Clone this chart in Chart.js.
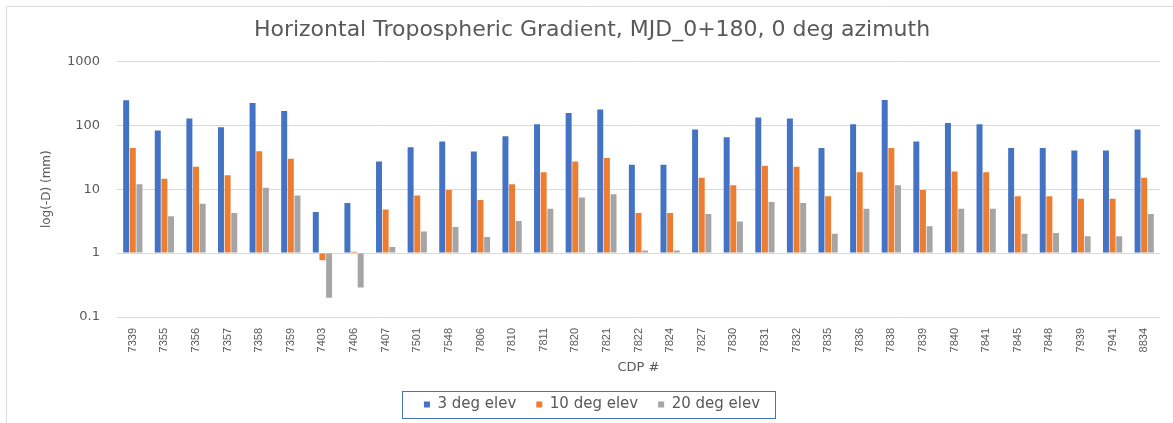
<!DOCTYPE html>
<html>
<head>
<meta charset="utf-8">
<script src="https://cdn.jsdelivr.net/npm/chart.js@4"></script>
<style>
html,body{margin:0;padding:0;background:#fff;}
#wrap{width:1173px;height:423px;}
</style>
</head>
<body>
<div id="wrap"><canvas id="c" width="1173" height="423"></canvas></div>
<script>
const categories = ["7339","7355","7356","7357","7358","7359","7403","7406","7407","7501","7548","7806","7810","7811","7820","7821","7822","7824","7827","7830","7831","7832","7835","7836","7838","7839","7840","7841","7845","7848","7939","7941","8834"];
const elev3  = [246, 83, 128, 93, 224, 168, 4.4, 6.1, 27.2, 45.5, 55.9, 39, 67.6, 104, 156, 176, 24.1, 24.1, 86, 65, 132, 128, 44, 104, 249, 55.9, 109, 104, 44, 44, 40.4, 40.4, 86];
const elev10 = [44, 14.6, 22.4, 16.5, 39.4, 29.9, 0.77, 1.05, 4.8, 8.0, 9.7, 6.8, 11.9, 18.4, 27.2, 30.7, 4.25, 4.25, 15.1, 11.5, 23.3, 22.4, 7.75, 18.4, 44, 9.7, 19.0, 18.4, 7.75, 7.75, 7.1, 7.1, 15.1];
const elev20 = [11.9, 3.78, 5.9, 4.25, 10.5, 8.0, 0.20, 0.29, 1.25, 2.17, 2.55, 1.78, 3.19, 4.96, 7.4, 8.3, 1.1, 1.1, 4.1, 3.11, 6.3, 6.1, 2.0, 4.96, 11.5, 2.64, 4.96, 4.96, 2.0, 2.07, 1.84, 1.84, 4.1];
const seriesNames = ["3 deg elev", "10 deg elev", "20 deg elev"];
const yTicks = [0.1, 1, 10, 100, 1000];

const txt = '#595959';
const FONT = 'DejaVu Sans';

const decor = {
  id: 'decor',
  beforeDraw(chart) {
    const ctx = chart.ctx;
    ctx.save();
    ctx.strokeStyle = '#DDDDDD';
    ctx.lineWidth = 1;
    ctx.beginPath();
    ctx.moveTo(6.5, chart.height);
    ctx.lineTo(6.5, 6.5);
    ctx.lineTo(chart.width, 6.5);
    ctx.stroke();
    ctx.restore();
  },
  afterDraw(chart) {
    const l = chart.legend;
    if (!l || !l.legendHitBoxes || !l.legendHitBoxes.length) return;
    const hb = l.legendHitBoxes;
    const x0 = hb[0].left - 22, x1 = hb[hb.length-1].left + hb[hb.length-1].width + 15;
    const y0 = hb[0].top - 6, y1 = hb[0].top + hb[0].height + 6;
    const ctx = chart.ctx;
    ctx.save();
    ctx.strokeStyle = '#4472C4';
    ctx.lineWidth = 1;
    ctx.strokeRect(Math.round(x0)+0.5, Math.round(y0)+0.5, Math.round(x1-x0), Math.round(y1-y0));
    ctx.restore();
  }
};

new Chart(document.getElementById('c'), {
  type: 'bar',
  data: {
    labels: categories,
    datasets: [
      {label: seriesNames[0], data: elev3,  backgroundColor: '#4472C4', base: 1},
      {label: seriesNames[1], data: elev10, backgroundColor: '#ED7D31', base: 1},
      {label: seriesNames[2], data: elev20, backgroundColor: '#A5A5A5', base: 1}
    ]
  },
  options: {
    responsive: false,
    animation: false,
    devicePixelRatio: 1,
    layout: {padding: {left: 24, right: 13, top: 10, bottom: 1}},
    datasets: {bar: {categoryPercentage: 0.63, barPercentage: 0.9}},
    plugins: {
      title: {
        display: true,
        text: 'Horizontal Tropospheric Gradient, MJD_0+180, 0 deg azimuth',
        color: txt,
        font: {family: FONT, size: 22, weight: 'normal'},
        padding: {top: 7, bottom: 18}
      },
      legend: {
        position: 'bottom',
        labels: {
          color: txt,
          font: {family: FONT, size: 15},
          boxWidth: 6, boxHeight: 6,
          padding: 20
        }
      },
      tooltip: {enabled: false}
    },
    scales: {
      x: {
        afterFit(scale) { scale.height = 60; },
        grid: {display: false},
        border: {display: false},
        ticks: {color: txt, font: {family: 'Liberation Sans', size: 11}, maxRotation: 90, minRotation: 90, autoSkip: false, padding: 3},
        title: {display: true, text: 'CDP #', color: txt, font: {family: FONT, size: 13}, padding: {top: 4, bottom: 2}}
      },
      y: {
        type: 'logarithmic',
        min: 0.1, max: 1000,
        afterBuildTicks(scale) { scale.ticks = yTicks.map(v => ({value: v})); },
        afterFit(scale) { scale.width = 93; },
        grid: {color: '#D9D9D9', drawTicks: false},
        border: {display: false},
        ticks: {color: txt, font: {family: FONT, size: 13}, padding: 17,
          callback: (v) => String(v)},
        title: {display: true, text: 'log(-D) (mm)', color: txt, font: {family: FONT, size: 12}, padding: {top: 16, bottom: 0}}
      }
    }
  },
  plugins: [decor]
});
</script>
</body>
</html>
